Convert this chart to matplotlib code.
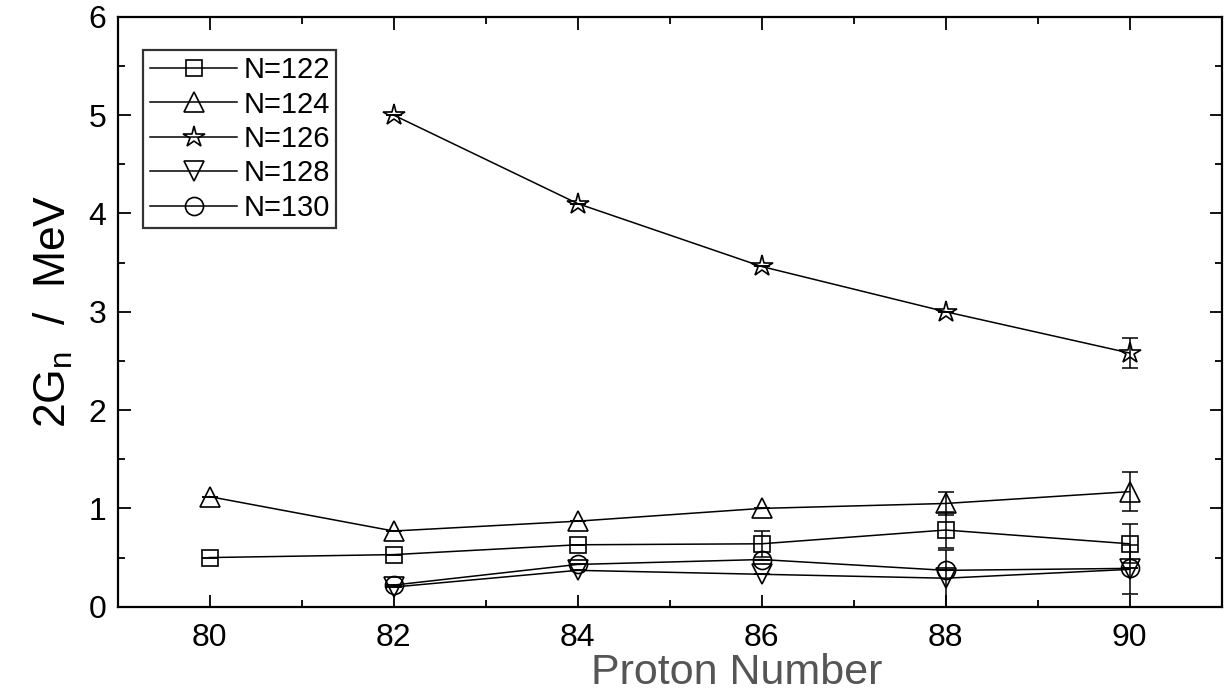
import matplotlib.pyplot as plt
from matplotlib.ticker import MultipleLocator

plt.rcParams['font.family'] = ['Liberation Sans', 'DejaVu Sans']
plt.rcParams['mathtext.fontset'] = 'custom'
plt.rcParams['mathtext.rm'] = 'Liberation Sans'

# Pairing gap 2G_n versus proton number for each neutron number
z_122 = [80, 82, 84, 86, 88, 90]
g_122 = [0.50, 0.53, 0.63, 0.64, 0.78, 0.64]
e_122 = [0.0, 0.0, 0.0, 0.13, 0.18, 0.20]

z_124 = [80, 82, 84, 86, 88, 90]
g_124 = [1.12, 0.77, 0.87, 1.00, 1.05, 1.17]
e_124 = [0.0, 0.0, 0.0, 0.0, 0.12, 0.20]

z_126 = [82, 84, 86, 88, 90]
g_126 = [5.00, 4.10, 3.46, 3.00, 2.58]
e_126 = [0.0, 0.0, 0.0, 0.0, 0.15]

z_128 = [82, 84, 86, 88, 90]
g_128 = [0.20, 0.37, 0.33, 0.29, 0.38]
e_128 = [0.0, 0.0, 0.0, 0.29, 0.25]

z_130 = [82, 84, 86, 88, 90]
g_130 = [0.22, 0.43, 0.48, 0.37, 0.39]
e_130 = [0.0, 0.0, 0.0, 0.0, 0.0]

series = [
    ('N=122', z_122, g_122, e_122, 's', 12),
    ('N=124', z_124, g_124, e_124, '^', 14),
    ('N=126', z_126, g_126, e_126, '*', 16),
    ('N=128', z_128, g_128, e_128, 'v', 14),
    ('N=130', z_130, g_130, e_130, 'o', 13),
]

fig = plt.figure(figsize=(12.24, 6.95), dpi=100)
ax = fig.add_axes([0.096, 0.127, 0.902, 0.849])

for label, z, g, e, mk, ms in series:
    ax.errorbar(z, g, yerr=e, fmt='none', ecolor='black', elinewidth=1.1,
                capsize=6, capthick=1.1)
    ax.plot(z, g, color='black', lw=1.1, marker=mk, ms=ms, mfc='none',
            mec='black', mew=1.2, label=label)

ax.set_xlim(79, 91)
ax.set_ylim(0, 6)
ax.xaxis.set_major_locator(MultipleLocator(2))
ax.xaxis.set_minor_locator(MultipleLocator(1))
ax.yaxis.set_major_locator(MultipleLocator(1))
ax.yaxis.set_minor_locator(MultipleLocator(0.5))
ax.tick_params(which='both', direction='in', top=True, right=True,
               width=1.3, labelsize=23)
ax.tick_params(which='major', length=9)
ax.tick_params(which='minor', length=5)
ax.tick_params(axis='x', pad=12)
ax.tick_params(axis='y', pad=8)
for s in ax.spines.values():
    s.set_linewidth(1.6)

ax.set_xlabel('Proton Number', fontsize=31, color='#555555', labelpad=0)
ax.xaxis.label.set_x(0.561)
ax.set_ylabel(r'2G$_\mathregular{n}$  /  MeV', fontsize=32, labelpad=10)

leg = ax.legend(loc='upper left', bbox_to_anchor=(0.0235, 0.944), fontsize=21,
                frameon=True, fancybox=False, edgecolor='black',
                handlelength=3.0, handletextpad=0.2, labelspacing=0.22,
                borderpad=0.22, borderaxespad=0)
leg.get_frame().set_linewidth(1.6)

fig.savefig('out.png', dpi=100)
